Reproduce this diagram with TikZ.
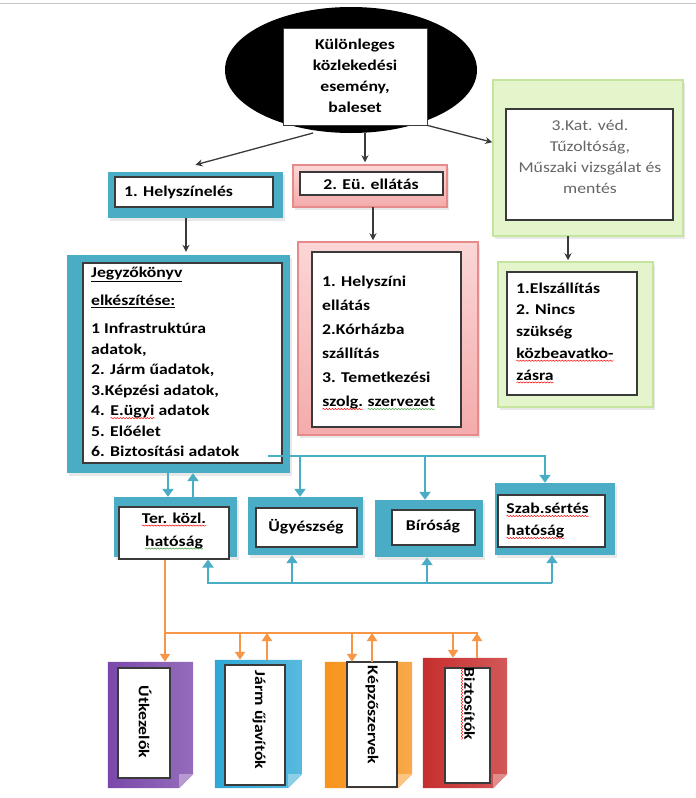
\documentclass[tikz,border=0pt]{standalone}
\usepackage{fontspec}
\setmainfont{Carlito}[FakeStretch=1.18]
\usetikzlibrary{shapes.geometric,fit,arrows.meta,shadows,decorations.pathmorphing}

\definecolor{frameblue}{HTML}{4BACC6}
\definecolor{pinklight}{HTML}{FBD6D6}
\definecolor{pinkfill}{HTML}{F4ABAB}
\definecolor{pinkedge}{HTML}{E68A8A}
\definecolor{greenfill}{HTML}{E4F5CC}
\definecolor{greenedge}{HTML}{C5E59E}
\definecolor{linkorange}{HTML}{F79646}
\definecolor{darkline}{HTML}{3A3A3A}
\definecolor{graytext}{HTML}{666666}
\definecolor{docpurple}{HTML}{7A48AA}
\definecolor{doccyan}{HTML}{2EA8D6}
\definecolor{docorange}{HTML}{F7941D}
\definecolor{docred}{HTML}{C72E2E}
\definecolor{waveg}{HTML}{3E9A3E}

% wavy spell-check style underline in a given colour
\newcommand\spellwave[2]{\tikz[baseline=(sw.base)]{%
  \node[inner sep=0pt, outer sep=0pt, anchor=base] (sw) {#2};%
  \draw[#1, line width=0.5pt, decorate, decoration={snake, amplitude=0.6pt, segment length=3pt}]
    ([yshift=-2.4pt]sw.base west) -- ([yshift=-2.4pt]sw.base east);}}

\tikzset{
  softshadow/.style={drop shadow={opacity=0.18, shadow xshift=1.5pt, shadow yshift=-2.5pt}},
  blueframe/.style={inner sep=0pt, fill=frameblue, softshadow},
  pinkframe/.style={inner sep=0pt, draw=pinkedge, line width=1.5pt, top color=pinklight, bottom color=pinkfill, softshadow},
  greenframe/.style={inner sep=0pt, draw=greenedge, line width=1.5pt, fill=greenfill, softshadow},
  whitebox/.style={inner sep=0pt, fill=white, draw=darkline, line width=1.1pt},
  boldtext/.style={inner sep=0pt, align=left, font=\bfseries\fontsize{15}{#1}\selectfont},
  boldtext/.default=21,
  darrow/.style={draw=darkline, line width=1.3pt, -{Stealth[length=7pt,width=7pt]}},
  blink/.style={draw=frameblue, line width=2.8pt, -{Triangle[length=8pt,width=11pt]}},
  oline/.style={draw=linkorange, line width=2.4pt},
  olink/.style={draw=linkorange, line width=2.4pt, -{Triangle[length=8pt,width=10pt]}},
  fold/.style={inner sep=0pt}
}

\begin{document}
\begin{tikzpicture}[x=1pt,y=-1pt]
\useasboundingbox (0,0) rectangle (696,798);
\draw[gray!45, line width=1pt] (0,3) -- (696,3);

% ---- event ----
\node[ellipse, fill=black, minimum width=252pt, minimum height=126pt, inner sep=0pt] (ell) at (351,70) {};
\node[whitebox, line width=0.8pt, fit={(283,28)(427,125)}] (eb) {};
\node[boldtext=21, align=center] (ebt) at (355,76) {Különleges\\közlekedési\\esemény,\\baleset};

% ---- first level ----
\node[blueframe, fit={(108,172)(283,218)}] (h1o) {};
\node[whitebox, fit={(115,177)(273,207)}] (h1i) {};
\node[boldtext, anchor=west] (h1t) at (124,192) {1. Helyszínelés};

\node[pinkframe, fit={(293,165)(447,207)}] (e2o) {};
\node[whitebox, fit={(300,172)(443,195)}] (e2i) {};
\node[boldtext] (e2t) at (371,184) {2. Eü. ellátás};

\node[greenframe, fit={(493,80)(683,236)}] (k3o) {};
\node[whitebox, fit={(506,109)(673,220)}] (k3i) {};
\node[inner sep=0pt, align=center, text=graytext, font=\fontsize{15}{21}\selectfont] (k3t) at (590,157) {3.Kat. véd.\\Tűzoltóság,\\Műszaki vizsgálat és\\mentés};

% ---- second level ----
\node[blueframe, fit={(67,255)(290,473)}] (jo) {};
\node[whitebox, fit={(83,263)(282,463)}] (ji) {};
\node[boldtext=20.5, anchor=west] (jt) at (91,362) {\underline{Jegyzőkönyv}\\[7pt]\underline{elkészítése:}\\[8pt]1 Infrastruktúra\\adatok,\\2. Járm űadatok,\\3.Képzési adatok,\\4. \spellwave{red}{E.ügyi} adatok\\5. Előélet\\6. Biztosítási adatok};

\node[pinkframe, fit={(298,242)(478,435)}] (e2bo) {};
\node[whitebox, fit={(312,252)(461,427)}] (e2bi) {};
\node[boldtext=24, anchor=west] (e2bt) at (322,343) {1. Helyszíni\\ellátás\\2.Kórházba\\szállítás\\3. Temetkezési\\\spellwave{red}{szolg.} \spellwave{waveg}{szervezet}};

\node[greenframe, fit={(498,262)(653,407)}] (k3bo) {};
\node[whitebox, fit={(507,272)(637,395)}] (k3bi) {};
\node[boldtext=21.7, anchor=west] (k3bt) at (516,333) {1.Elszállítás\\2. Nincs\\szükség\\\spellwave{red}{közbeavatko-}\\\spellwave{red}{zásra}};

% ---- authorities ----
\node[blueframe, fit={(114,497)(237,557)}] (tko) {};
\node[whitebox, fit={(119,507)(229,559)}] (tki) {};
\node[boldtext=23, align=center] (tkt) at (174,531) {\spellwave{red}{Ter. közl.}\\\spellwave{waveg}{hatóság}};

\node[blueframe, fit={(248,497)(363,555)}] (ugo) {};
\node[whitebox, fit={(256,508)(357,547)}] (ugi) {};
\node[boldtext] (ugt) at (306,527) {Ügyészség};

\node[blueframe, fit={(375,500)(483,557)}] (bio) {};
\node[whitebox, fit={(392,510)(475,545)}] (bii) {};
\node[boldtext] (bit) at (433,527) {Bíróság};

\node[blueframe, fit={(495,483)(615,555)}] (szo) {};
\node[whitebox, fit={(498,495)(605,547)}] (szi) {};
\node[boldtext=22, anchor=west] (szt) at (506,521) {\spellwave{red}{Szab.sértés}\\\spellwave{red}{hatóság}};

% ---- partner documents ----
\node[fold, fit={(108,662)(193,788)}] (uto) {};
\node[fold, fit={(215,660)(302,788)}] (jao) {};
\node[fold, fit={(325,662)(412,788)}] (keo) {};
\node[fold, fit={(423,658)(507,788)}] (bzo) {};
\foreach \d/\c in {uto/docpurple, jao/doccyan, keo/docorange, bzo/docred}{
  \path[left color=\c, right color=\c!80!white]
    (\d.north west) -- (\d.north east) -- ([yshift=14pt]\d.south east)
    -- ([xshift=-14pt]\d.south east) -- (\d.south west) -- cycle;
  \fill[\c!55!white] ([yshift=14pt]\d.south east) -- ([xshift=-14pt]\d.south east)
    -- ([xshift=-14pt,yshift=14pt]\d.south east) -- cycle;
}
\node[whitebox, fit={(118,668)(170,778)}] (uti) {};
\node[whitebox, fit={(225,665)(285,785)}] (jai) {};
\node[whitebox, fit={(347,662)(397,787)}] (kei) {};
\node[whitebox, fit={(445,668)(490,783)}] (bzi) {};
\node[boldtext, rotate=-90] (utt) at (145,722) {Útkezelők};
\node[boldtext, rotate=-90] (jat) at (259,720) {Járm űjavítók};
\node[boldtext, rotate=-90] (ket) at (372,715) {Képzőszervek};
\node[boldtext, rotate=-90] (bzt) at (468,704) {\spellwave{red}{Biztosítók}};

% ---- dark arrows ----
\coordinate (a1s) at (313,133);
\draw[darrow] (a1s) -- ([yshift=7pt]h1o.north);
\coordinate (a2s) at (365,133);
\draw[darrow, shorten >=2pt] (a2s) -- (a2s |- e2o.north);
\draw[darrow] (eb.south east) -- ([yshift=-63pt]k3o.north west);
\coordinate (a4) at (186,218);
\draw[darrow, shorten >=3pt] (a4) -- (a4 |- jo.north);
\coordinate (a5) at (373,207);
\draw[darrow, shorten >=1pt] (a5) -- (a5 |- e2bo.north);
\coordinate (a6) at (568,236);
\draw[darrow, shorten >=1pt] (a6) -- (a6 |- k3bo.north);

% ---- blue links ----
\coordinate (bt1) at (268,456);
\coordinate (bt2) at (545,456);
\draw[blink, line join=miter] (bt1) -- (bt2) -- (bt2 |- szo.north);
\coordinate (dug) at (300,456);
\draw[blink] (dug) -- (dug |- ugo.north);
\coordinate (dbi) at (425,456);
\draw[blink] (dbi) -- (dbi |- bio.north);
\coordinate (pd) at (168,473);
\draw[blink] (pd |- jo.south) -- (pd |- tko.north);
\coordinate (pu) at (193,473);
\draw[blink] (pu |- tko.north) -- (pu |- jo.south);

\coordinate (rb1) at (208,583);
\coordinate (rb2) at (552,583);
\draw[blink, line join=miter] (rb2) -- (rb1) -- (rb1 |- tki.south);
\draw[blink] (rb2) -- (rb2 |- szo.south);
\coordinate (rug) at (292,583);
\draw[blink] (rug) -- (rug |- ugo.south);
\coordinate (rbi) at (427,583);
\draw[blink] (rbi) -- (rbi |- bio.south);

% ---- orange links ----
\coordinate (ob1) at (165,633);
\coordinate (ob2) at (478,633);
\draw[olink] (tki.south -| ob1) -- (ob1 |- uto.north);
\draw[oline] (ob1) -- (ob2);
\coordinate (oj1) at (240,633);
\draw[olink] (oj1) -- (oj1 |- jao.north);
\coordinate (oj2) at (267,633);
\draw[olink] (oj2 |- jao.north) -- (oj2);
\coordinate (ok1) at (352,633);
\draw[olink] (ok1) -- (ok1 |- keo.north);
\coordinate (ok2) at (372,633);
\draw[olink] (ok2 |- keo.north) -- (ok2);
\coordinate (oz1) at (453,633);
\draw[olink] (oz1) -- (oz1 |- bzo.north);
\coordinate (oz2) at (477,633);
\draw[olink] (oz2 |- bzo.north) -- (oz2);
\end{tikzpicture}
\end{document}
